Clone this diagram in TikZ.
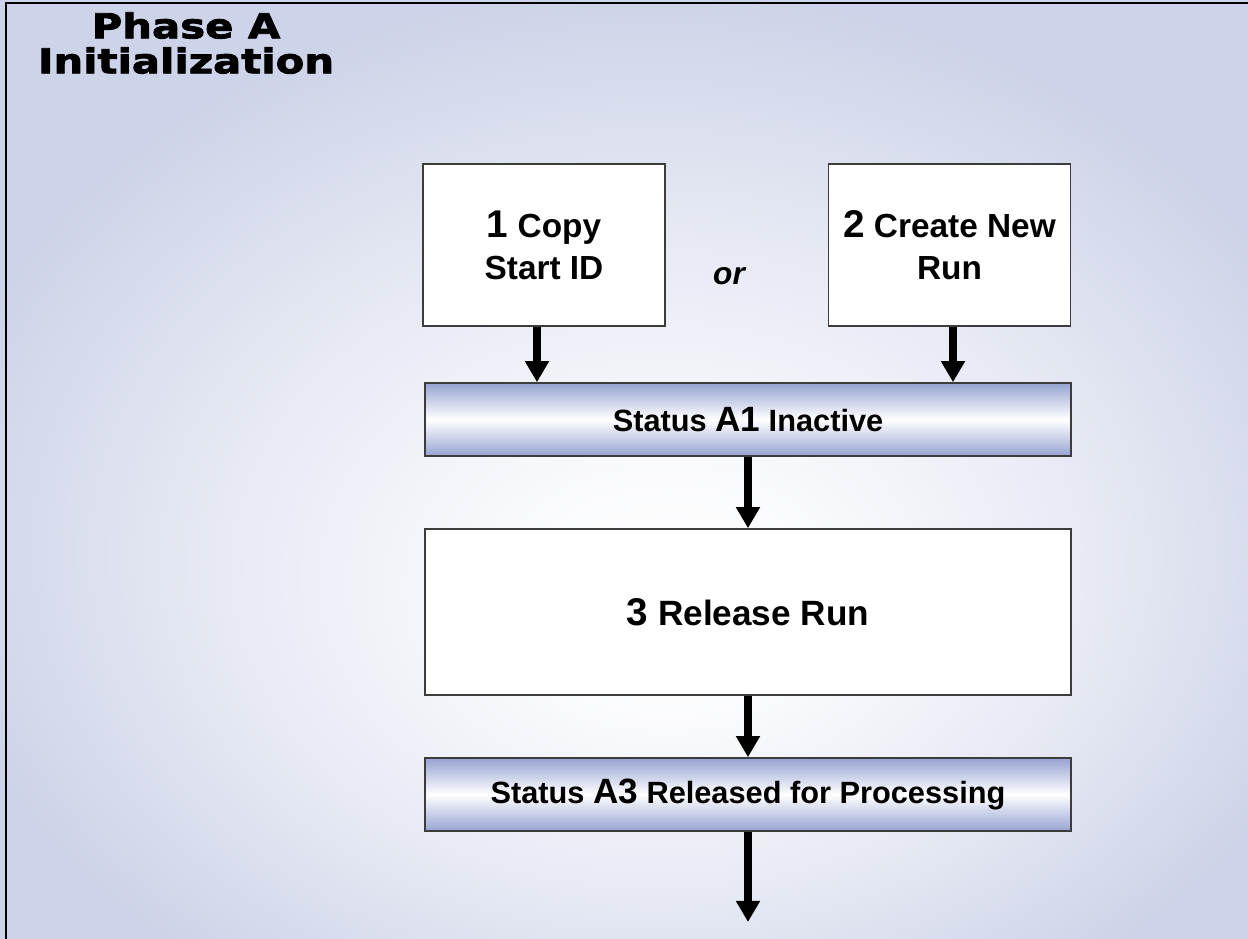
\documentclass[tikz,border=0pt]{standalone}
\usepackage{fontspec}
\setmainfont{Liberation Sans}
\newfontfamily\titlefont[FakeStretch=1.22,FakeBold=2.5]{DejaVu Sans Bold}
\usetikzlibrary{arrows.meta}
\definecolor{bgblue}{RGB}{205,211,232}
\definecolor{barblue}{RGB}{150,163,210}
\definecolor{edgegray}{RGB}{60,60,60}
\colorlet{bgmid}{white!50!bgblue}
\colorlet{bglight}{white!92!bgblue}
\pgfdeclareradialshading{bgglow}{\pgfpoint{2bp}{-8bp}}{color(0bp)=(white); color(6bp)=(bglight); color(18bp)=(bgmid); color(29bp)=(bgblue); color(50bp)=(bgblue)}
\newcommand{\stepno}[1]{{\fontsize{22pt}{24pt}\selectfont #1}}
\newcommand{\statno}[1]{{\fontsize{20pt}{20pt}\selectfont #1}}

\begin{document}
\begin{tikzpicture}[x=0.02cm,y=-0.02cm,
  stepbox/.style={draw=edgegray,line width=0.9pt,fill=white,minimum width=4.84cm,minimum height=3.24cm,align=center,font=\fontsize{19pt}{24pt}\selectfont\bfseries},
  statusbar/.style={draw=edgegray,line width=0.9pt,top color=barblue,bottom color=barblue,middle color=white,minimum width=12.92cm,minimum height=1.46cm,font=\fontsize{17.5pt}{20pt}\selectfont\bfseries},
  flow/.style={line width=4pt,-{Triangle[width=13pt,length=12pt]}}]
\useasboundingbox (0,0) rectangle (1248,939);
\shade[shading=bgglow] (0,0) rectangle (1248,939);
\draw[line width=1.2pt] (6,939) -- (6,3) -- (1248,3);
\node[font=\titlefont\fontsize{19.5pt}{19.9pt}\selectfont,align=center] (title) at (186,43) {Phase A\\Initialization};
\node[stepbox] (copy) at (544,245) {\stepno{1} Copy\\Start ID};
\node[stepbox] (create) at (949.5,245) {\stepno{2} Create New\\Run};
\node[font=\fontsize{18pt}{20pt}\selectfont\bfseries\itshape] (or) at (729,276) {or};
\node[statusbar] (inactive) at (748,419.5) {Status \statno{A1} Inactive};
\node[stepbox,minimum width=12.92cm,minimum height=3.32cm,font=\fontsize{20pt}{24pt}\selectfont\bfseries] (release) at (748,612) {\stepno{3} Release Run};
\node[statusbar] (released) at (748,794.5) {Status \statno{A3} Released for Processing};
\coordinate (exit) at (748,922);
\draw[flow] ([xshift=-0.14cm]copy.south) -- ([xshift=-0.14cm]copy.south |- inactive.north);
\draw[flow] ([xshift=0.07cm]create.south) -- ([xshift=0.07cm]create.south |- inactive.north);
\draw[flow] (inactive.south) -- (release.north);
\draw[flow] (release.south) -- (released.north);
\draw[flow] (released.south) -- (exit);
\end{tikzpicture}
\end{document}
